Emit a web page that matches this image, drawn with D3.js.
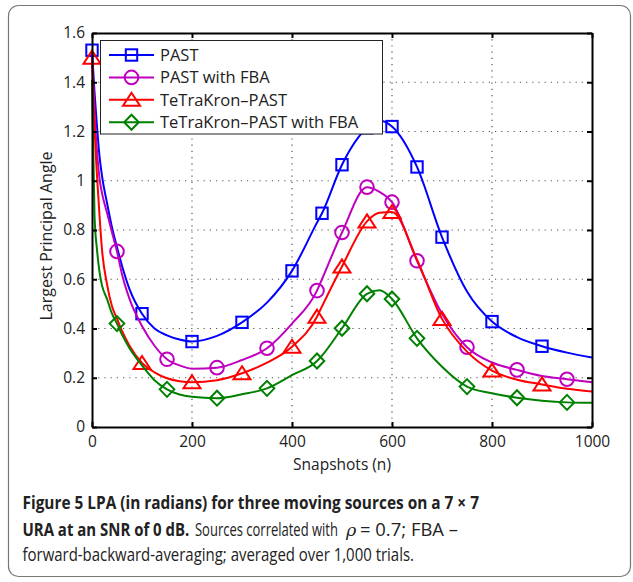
<!DOCTYPE html>
<html>
<head>
<meta charset="utf-8">
<script src="https://cdn.jsdelivr.net/npm/d3@7"></script>
<style>
body { margin: 0; background: #fff; }
text { font-family: "Open Sans", sans-serif; fill: #222; }
</style>
</head>
<body>
<svg width="633" height="582"></svg>
<script>
// values (LPA in radians vs. number of snapshots)
var snapshots = [0, 5, 10, 15, 20, 30, 40, 50, 60, 75, 100, 125, 150, 175, 200, 250, 300, 350, 400,
    450, 460, 500, 550, 575, 600, 650, 700, 750, 800, 850, 900, 950, 1000];

var past     = [1.53, 1.36, 1.22, 1.10, 1.02, 0.91, 0.81, 0.73, 0.655, 0.56, 0.46, 0.40, 0.372, 0.355, 0.347, 0.37, 0.425, 0.505, 0.634,
    0.83, 0.868, 1.065, 1.215, 1.245, 1.22, 1.056, 0.771, 0.55, 0.428, 0.365, 0.328, 0.302, 0.282];
var pastFba  = [1.52, 1.28, 1.12, 1.01, 0.95, 0.87, 0.79, 0.713, 0.62, 0.52, 0.41, 0.33, 0.275, 0.25, 0.237, 0.241, 0.272, 0.32, 0.42,
    0.554, 0.60, 0.79, 0.974, 0.955, 0.913, 0.675, 0.46, 0.324, 0.262, 0.232, 0.207, 0.194, 0.182];
var tetra    = [1.50, 1.22, 1.02, 0.86, 0.72, 0.58, 0.49, 0.44, 0.39, 0.33, 0.26, 0.222, 0.198, 0.186, 0.182, 0.19, 0.218, 0.261, 0.326,
    0.448, 0.49, 0.652, 0.835, 0.87, 0.873, 0.68, 0.439, 0.306, 0.229, 0.192, 0.173, 0.155, 0.144];
var tetraFba = [1.41, 0.86, 0.72, 0.63, 0.575, 0.52, 0.46, 0.42, 0.375, 0.32, 0.25, 0.19, 0.153, 0.132, 0.123, 0.117, 0.133, 0.157, 0.211,
    0.268, 0.29, 0.401, 0.541, 0.555, 0.52, 0.36, 0.245, 0.164, 0.137, 0.119, 0.107, 0.100, 0.098];

// snapshot positions carrying a marker
var pastMarks     = [0, 100, 200, 300, 400, 460, 500, 550, 600, 650, 700, 800, 900];
var pastFbaMarks  = [50, 150, 250, 350, 450, 500, 550, 600, 650, 750, 850, 950];
var tetraMarks    = [0, 100, 200, 300, 400, 450, 500, 550, 600, 700, 800, 900];
var tetraFbaMarks = [50, 150, 250, 350, 450, 500, 550, 600, 650, 750, 850, 950];

var seriesNames = ["PAST", "PAST with FBA", "TeTraKron\u2013PAST", "TeTraKron\u2013PAST with FBA"];
var xTicks = [0, 200, 400, 600, 800, 1000];
var yTicks = [0, 0.2, 0.4, 0.6, 0.8, 1, 1.2, 1.4, 1.6];

var colors = ["#0000ff", "#bf00bf", "#ff0000", "#008000"];
var shapes = ["square", "circle", "triangle", "diamond"];

var svg = d3.select("svg"),
    margin = {top: 33, left: 92},
    width = 500,
    height = 394;

// outer frame of the figure
svg.append("rect")
    .attr("x", 8.5).attr("y", 5.5)
    .attr("width", 622).attr("height", 571)
    .attr("rx", 10)
    .attr("fill", "none")
    .attr("stroke", "#777")
    .attr("stroke-width", 1.2);

var x = d3.scaleLinear().domain([0, 1000]).range([0, width]),
    y = d3.scaleLinear().domain([0, 1.6]).range([height, 0]);

var g = svg.append("g")
    .attr("transform", "translate(" + margin.left + "," + margin.top + ")");

// dotted grid
g.selectAll(".gx").data(xTicks.slice(1, -1)).enter().append("line")
    .attr("x1", x).attr("x2", x).attr("y1", 0).attr("y2", height)
    .attr("stroke", "#555").attr("stroke-width", 1.2).attr("stroke-dasharray", "1.2,5");
g.selectAll(".gy").data(yTicks.slice(1, -1)).enter().append("line")
    .attr("y1", y).attr("y2", y).attr("x1", 0).attr("x2", width)
    .attr("stroke", "#555").attr("stroke-width", 1.2).attr("stroke-dasharray", "1.2,5");

var allSeries = [past, pastFba, tetra, tetraFba];
var allMarks = [pastMarks, pastFbaMarks, tetraMarks, tetraFbaMarks];

var line = d3.line()
    .x(function(d) { return x(d[0]); })
    .y(function(d) { return y(d[1]); })
    .curve(d3.curveMonotoneX);

function marker(sel, shape, color) {
    if (shape == "circle") {
        sel.append("circle").attr("r", 6.8);
    } else if (shape == "square") {
        sel.append("rect").attr("x", -5.7).attr("y", -5.7).attr("width", 11.4).attr("height", 11.4);
    } else if (shape == "triangle") {
        sel.append("path").attr("d", "M0,-7L8.5,6L-8.5,6Z");
    } else {
        sel.append("path").attr("d", "M0,-7.5L7.3,0L0,7.5L-7.3,0Z");
    }
    sel.selectAll("*")
        .attr("fill", "none")
        .attr("stroke", color)
        .attr("stroke-width", 2);
}

allSeries.forEach(function(vals, i) {
    var pts = snapshots.map(function(s, j) { return [s, vals[j]]; });
    g.append("path")
        .datum(pts)
        .attr("fill", "none")
        .attr("stroke", colors[i])
        .attr("stroke-width", 2)
        .attr("d", line);

    pts.filter(function(p) { return allMarks[i].indexOf(p[0]) >= 0; })
        .forEach(function(p) {
            var m = g.append("g")
                .attr("transform", "translate(" + x(p[0]) + "," + y(p[1]) + ")");
            marker(m, shapes[i], colors[i]);
        });
});

// axes box with inward ticks
g.append("g")
    .attr("transform", "translate(0," + height + ")")
    .call(d3.axisBottom(x).tickValues(xTicks).tickFormat(d3.format("d")).tickSizeInner(-5).tickSizeOuter(0).tickPadding(9));
g.append("g")
    .call(d3.axisLeft(y).tickValues(yTicks).tickFormat(d3.format("~g")).tickSizeInner(-5).tickSizeOuter(0).tickPadding(7));
g.append("g")
    .call(d3.axisTop(x).tickValues(xTicks).tickFormat("").tickSizeInner(-5).tickSizeOuter(0));
g.append("g")
    .attr("transform", "translate(" + width + ",0)")
    .call(d3.axisRight(y).tickValues(yTicks).tickFormat("").tickSizeInner(-5).tickSizeOuter(0));

g.selectAll(".domain, .tick line")
    .attr("stroke", "#000")
    .attr("stroke-width", 2);
g.selectAll(".tick text")
    .attr("fill", "#222")
    .style("font-size", "15.5px")
    .style("font-family", "'Open Sans', sans-serif");

g.append("text")
    .attr("x", width / 2)
    .attr("y", height + 43)
    .attr("text-anchor", "middle")
    .style("font-size", "15.5px")
    .text("Snapshots (n)");

g.append("text")
    .attr("transform", "rotate(-90)")
    .attr("x", -height / 2 - 6)
    .attr("y", -40)
    .attr("text-anchor", "middle")
    .style("font-size", "16px")
    .text("Largest Principal Angle");

// legend
var legend = svg.append("g")
    .attr("transform", "translate(100.5,40.5)");
legend.append("rect")
    .attr("width", 282).attr("height", 93.5)
    .attr("fill", "#fff")
    .attr("stroke", "#222")
    .attr("stroke-width", 1);
seriesNames.forEach(function(name, i) {
    var row = legend.append("g")
        .attr("transform", "translate(0," + (14.5 + i * 22.4) + ")");
    row.append("line")
        .attr("x1", 8.5).attr("x2", 53.5)
        .attr("stroke", colors[i]).attr("stroke-width", 2);
    var m = row.append("g").attr("transform", "translate(31,0)");
    marker(m, shapes[i], colors[i]);
    row.append("text")
        .attr("x", 59.5)
        .attr("dy", "0.36em")
        .style("font-size", "16.5px")
        .text(name);
});

// caption: the original face is condensed, so squeeze each piece to its width
var cap = svg.append("g").style("font-size", "17.5px");
function capText(px, py, w, str, bold) {
    var t = cap.append("text")
        .style("font-weight", bold ? "bold" : "normal")
        .attr("fill", bold ? "#111" : "#444")
        .text(str);
    var natural = t.node().getComputedTextLength();
    t.attr("transform", "translate(" + px + "," + py + ") scale(" + (w / natural) + ",1)");
    return t;
}
capText(22.5, 509, 457, "Figure 5 LPA (in radians) for three moving sources on a 7 \u00d7 7", true);
capText(22.5, 536, 167, "URA at an SNR of 0 dB.", true);
capText(195, 536, 143, "Sources correlated with", false);
cap.append("text")
    .attr("x", 346).attr("y", 536)
    .attr("fill", "#444")
    .style("font-style", "italic")
    .style("font-family", "'DejaVu Serif', serif")
    .text("\u03c1");
capText(360, 536, 98, "= 0.7; FBA \u2013", false);
capText(22.5, 561, 392, "forward-backward-averaging; averaged over 1,000 trials.", false);
</script>
</body>
</html>
